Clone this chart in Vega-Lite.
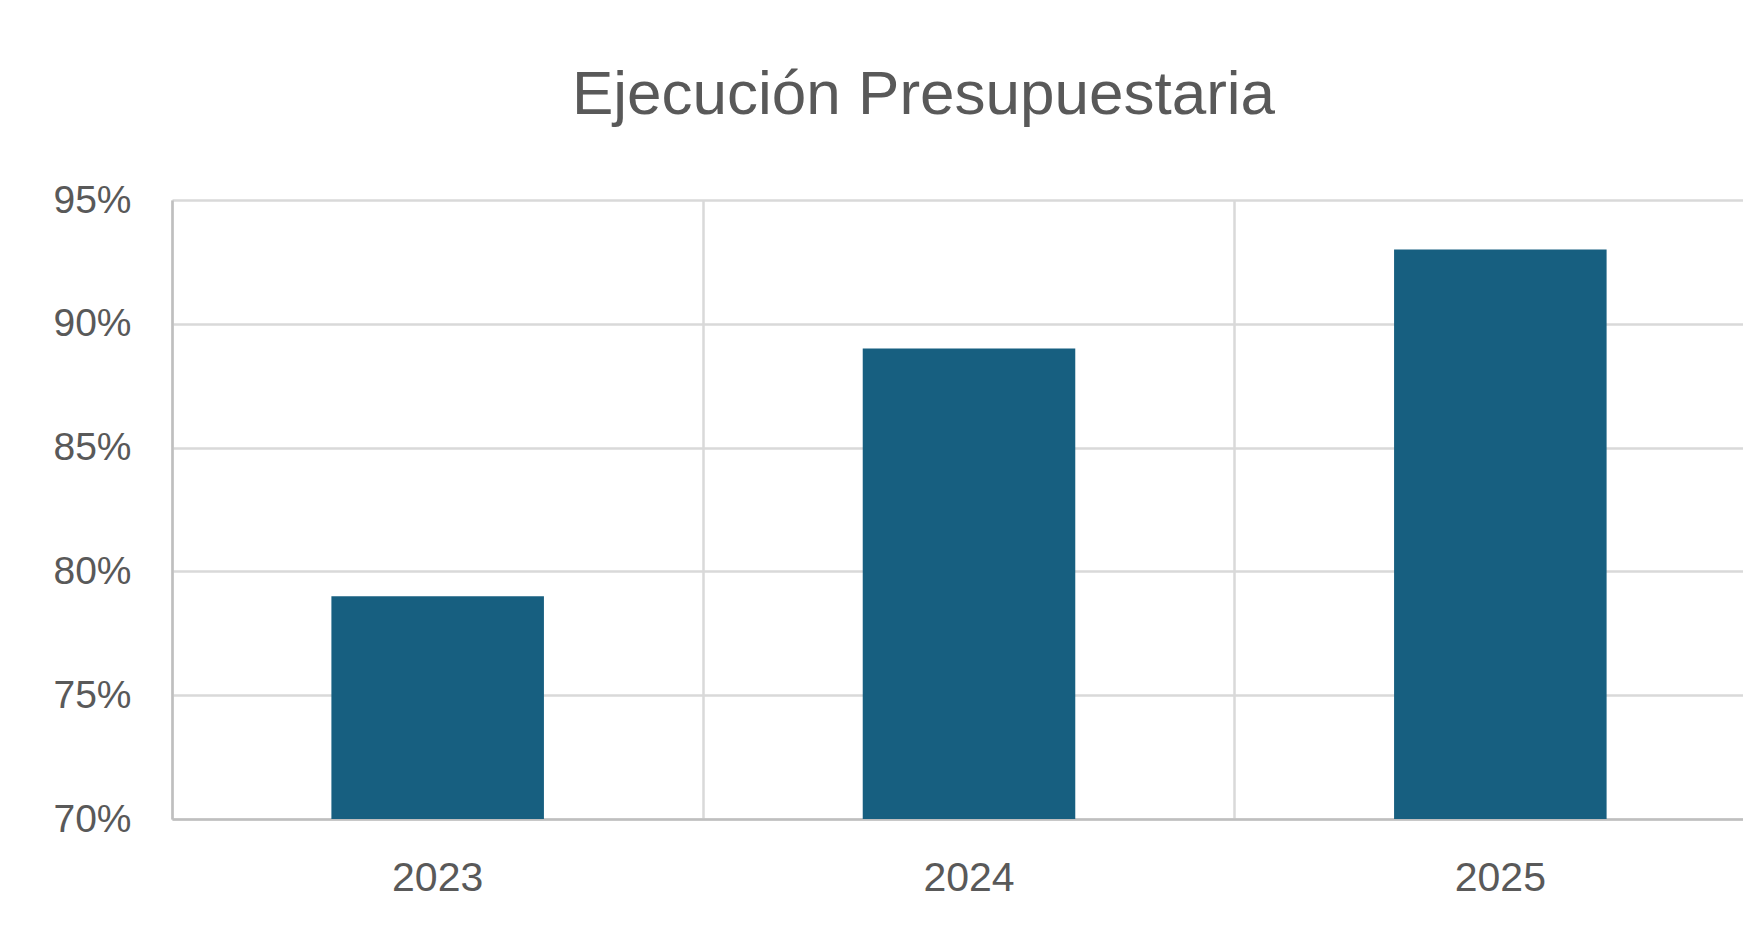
{
  "$schema": "https://vega.github.io/schema/vega-lite/v6.json",
  "autosize": "none",
  "width": 1571,
  "height": 619,
  "padding": {"left": 172, "top": 200, "right": 0, "bottom": 110},
  "background": "#ffffff",
  "title": {
    "text": "Ejecución Presupuestaria",
    "font": "Liberation Sans",
    "fontSize": 62,
    "fontWeight": "normal",
    "color": "#595959",
    "anchor": "middle",
    "dx": -34,
    "baseline": "alphabetic",
    "offset": 5
  },
  "data": {
    "values": [
      {"year": "2023", "value": 0.79},
      {"year": "2024", "value": 0.89},
      {"year": "2025", "value": 0.93}
    ]
  },
  "mark": {"type": "bar", "color": "#175f80", "width": {"band": 0.4}},
  "encoding": {
    "x": {
      "field": "year",
      "type": "nominal",
      "sort": null,
      "scale": {"paddingInner": 0, "paddingOuter": 0, "range": [0, 1594]},
      "axis": {
        "title": null,
        "labelAngle": 0,
        "labelFont": "Liberation Sans",
        "labelFontSize": 41,
        "labelColor": "#595959",
        "labelPadding": 39,
        "ticks": false,
        "grid": true,
        "bandPosition": 0,
        "gridColor": "#d9d9d9",
        "gridWidth": 2.5,
        "domainColor": "#bfbfbf",
        "domainWidth": 2.5
      }
    },
    "y": {
      "field": "value",
      "type": "quantitative",
      "scale": {"domain": [0.7, 0.95], "zero": false, "nice": false},
      "axis": {
        "title": null,
        "values": [0.7, 0.75, 0.8, 0.85, 0.9, 0.95],
        "format": ".0%",
        "labelFont": "Liberation Sans",
        "labelFontSize": 39,
        "labelColor": "#595959",
        "labelPadding": 41,
        "ticks": false,
        "grid": true,
        "gridColor": "#d9d9d9",
        "gridWidth": 2.5,
        "domainColor": "#bfbfbf",
        "domainWidth": 2.5
      }
    },
    "y2": {"datum": 0.7}
  },
  "config": {"view": {"stroke": null}}
}
